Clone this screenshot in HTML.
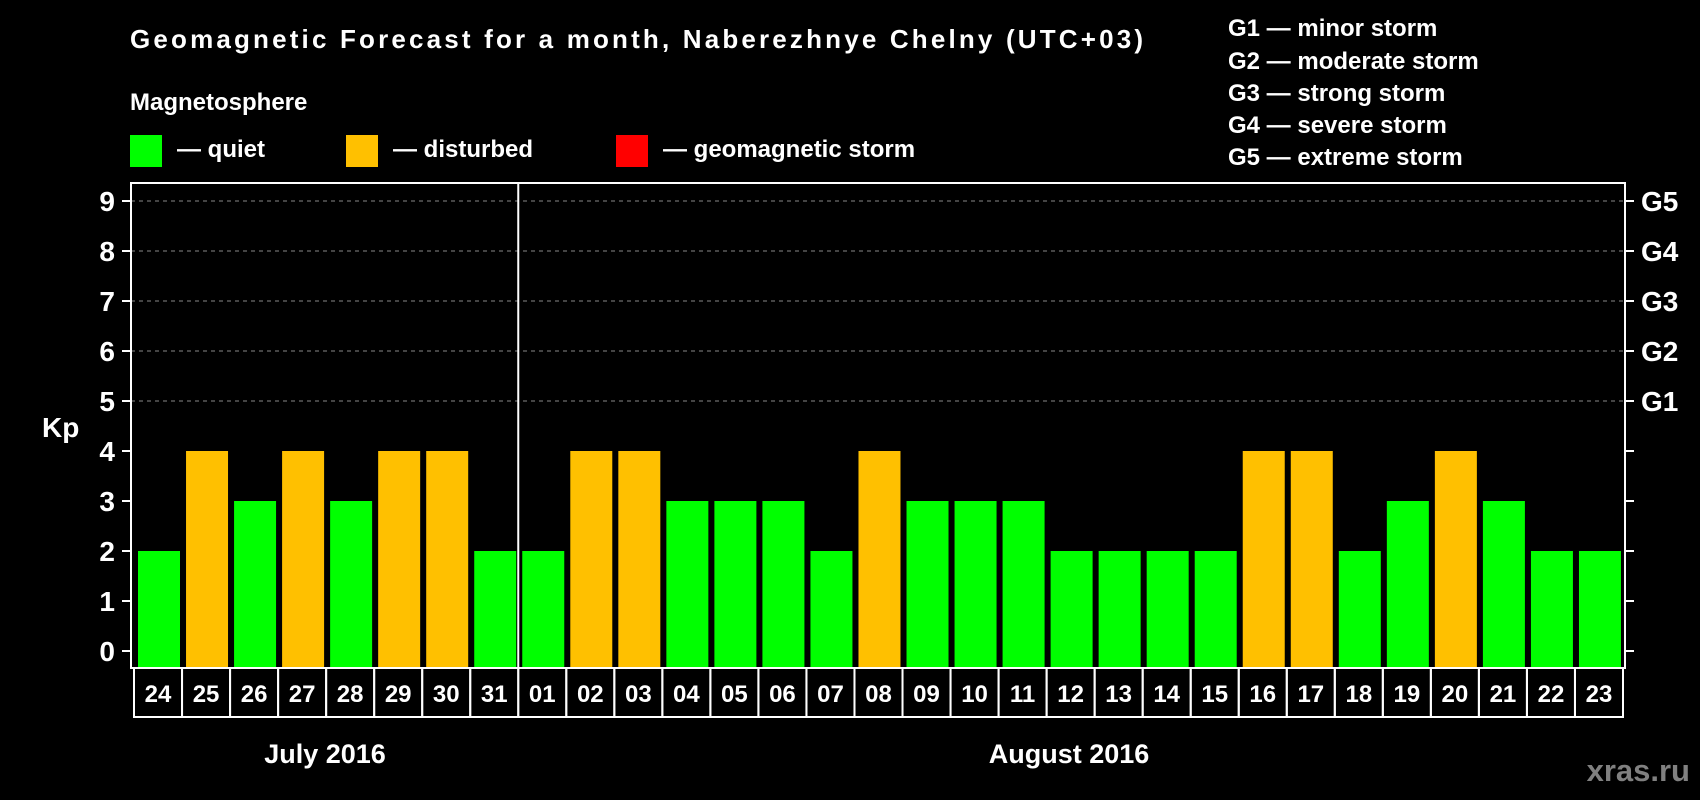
<!DOCTYPE html>
<html><head><meta charset="utf-8"><style>
body{margin:0;background:#000;}
svg{display:block;font-family:"Liberation Sans",sans-serif;font-weight:bold;}
</style></head><body>
<svg width="1700" height="800" viewBox="0 0 1700 800">
<rect width="1700" height="800" fill="#000"/>
<text x="130" y="48" fill="#fff" font-size="26" textLength="1013">Geomagnetic Forecast for a month, Naberezhnye Chelny (UTC+03)</text>
<text x="130" y="110" fill="#fff" font-size="24">Magnetosphere</text>
<g><rect x="130" y="135" width="32" height="32" fill="#00ff00"/><text x="177" y="157" fill="#fff" font-size="24">— quiet</text></g>
<g><rect x="346" y="135" width="32" height="32" fill="#ffc000"/><text x="393" y="157" fill="#fff" font-size="24">— disturbed</text></g>
<g><rect x="616" y="135" width="32" height="32" fill="#ff0000"/><text x="663" y="157" fill="#fff" font-size="24">— geomagnetic storm</text></g>
<g fill="#fff" font-size="24">
<text x="1228" y="36">G1 — minor storm</text>
<text x="1228" y="69">G2 — moderate storm</text>
<text x="1228" y="101">G3 — strong storm</text>
<text x="1228" y="133">G4 — severe storm</text>
<text x="1228" y="165">G5 — extreme storm</text>
</g>
<text x="42" y="437" fill="#fff" font-size="28">Kp</text>
<text x="325" y="763" fill="#fff" font-size="27" text-anchor="middle">July 2016</text>
<text x="1069" y="763" fill="#fff" font-size="27" text-anchor="middle">August 2016</text>
<text x="1690" y="781" fill="#808080" font-size="31" text-anchor="end">xras.ru</text>
<g id="plot"></g>
</svg>
<script>
const days=["24","25","26","27","28","29","30","31","01","02","03","04","05","06","07","08","09","10","11","12","13","14","15","16","17","18","19","20","21","22","23"];
const kp=[2,4,3,4,3,4,4,2,2,4,4,3,3,3,2,4,3,3,3,2,2,2,2,4,4,2,3,4,3,2,2];
const yTicks=[0,1,2,3,4,5,6,7,8,9];
const gLabels=["","","","","","G1","G2","G3","G4","G5"];
const monthBreakIndex=8;
const NS="http://www.w3.org/2000/svg";
const g=document.getElementById('plot');
const L=131,R=1625,T=183,B=668,cellL=134,cellW=(1623-134)/days.length;
const y=v=>651-v*50;
const x=i=>cellL+i*cellW;
function mk(t,a){const e=document.createElementNS(NS,t);for(const k in a)e.setAttribute(k,a[k]);g.appendChild(e);return e;}
yTicks.forEach((v,i)=>{
  if(v>=5){const l=mk('line',{x1:L,x2:R,y1:y(v),y2:y(v),stroke:'#888','stroke-dasharray':'4 4','stroke-width':1});
  
  }
  const t1=mk('line',{x1:L-9,x2:L,y1:y(v),y2:y(v),stroke:'#fff','stroke-width':2});
  
  
  const t2=mk('line',{x1:R,x2:R+9,y1:y(v),y2:y(v),stroke:'#fff','stroke-width':2});
  
  
  const lb=mk('text',{x:115,y:y(v)+10,fill:'#fff','font-size':28,'text-anchor':'end'});lb.textContent=v;
  
  
  if(gLabels[i]){const gl=mk('text',{x:1641,y:y(v)+10,fill:'#fff','font-size':28});gl.textContent=gLabels[i];
  
  }
});
kp.forEach((v,i)=>{
  const c=v>=5?'#ff0000':(v>=4?'#ffc000':'#00ff00');
  const b=mk('rect',{x:x(i)+4,y:y(v),width:42,height:B-y(v),fill:c});
  
  
  const cell=mk('rect',{x:x(i),y:B,width:cellW,height:49,fill:'none',stroke:'#fff','stroke-width':2});
  
  
  const t=mk('text',{x:x(i)+cellW/2,y:B+34,fill:'#fff','font-size':24,'text-anchor':'middle'});t.textContent=days[i];
  
  
});
const fr=mk('rect',{x:L,y:T,width:R-L,height:B-T,fill:'none',stroke:'#fff','stroke-width':2});


const sep=mk('line',{x1:x(monthBreakIndex),x2:x(monthBreakIndex),y1:T,y2:B,stroke:'#fff','stroke-width':2});


</script>
</body></html>
